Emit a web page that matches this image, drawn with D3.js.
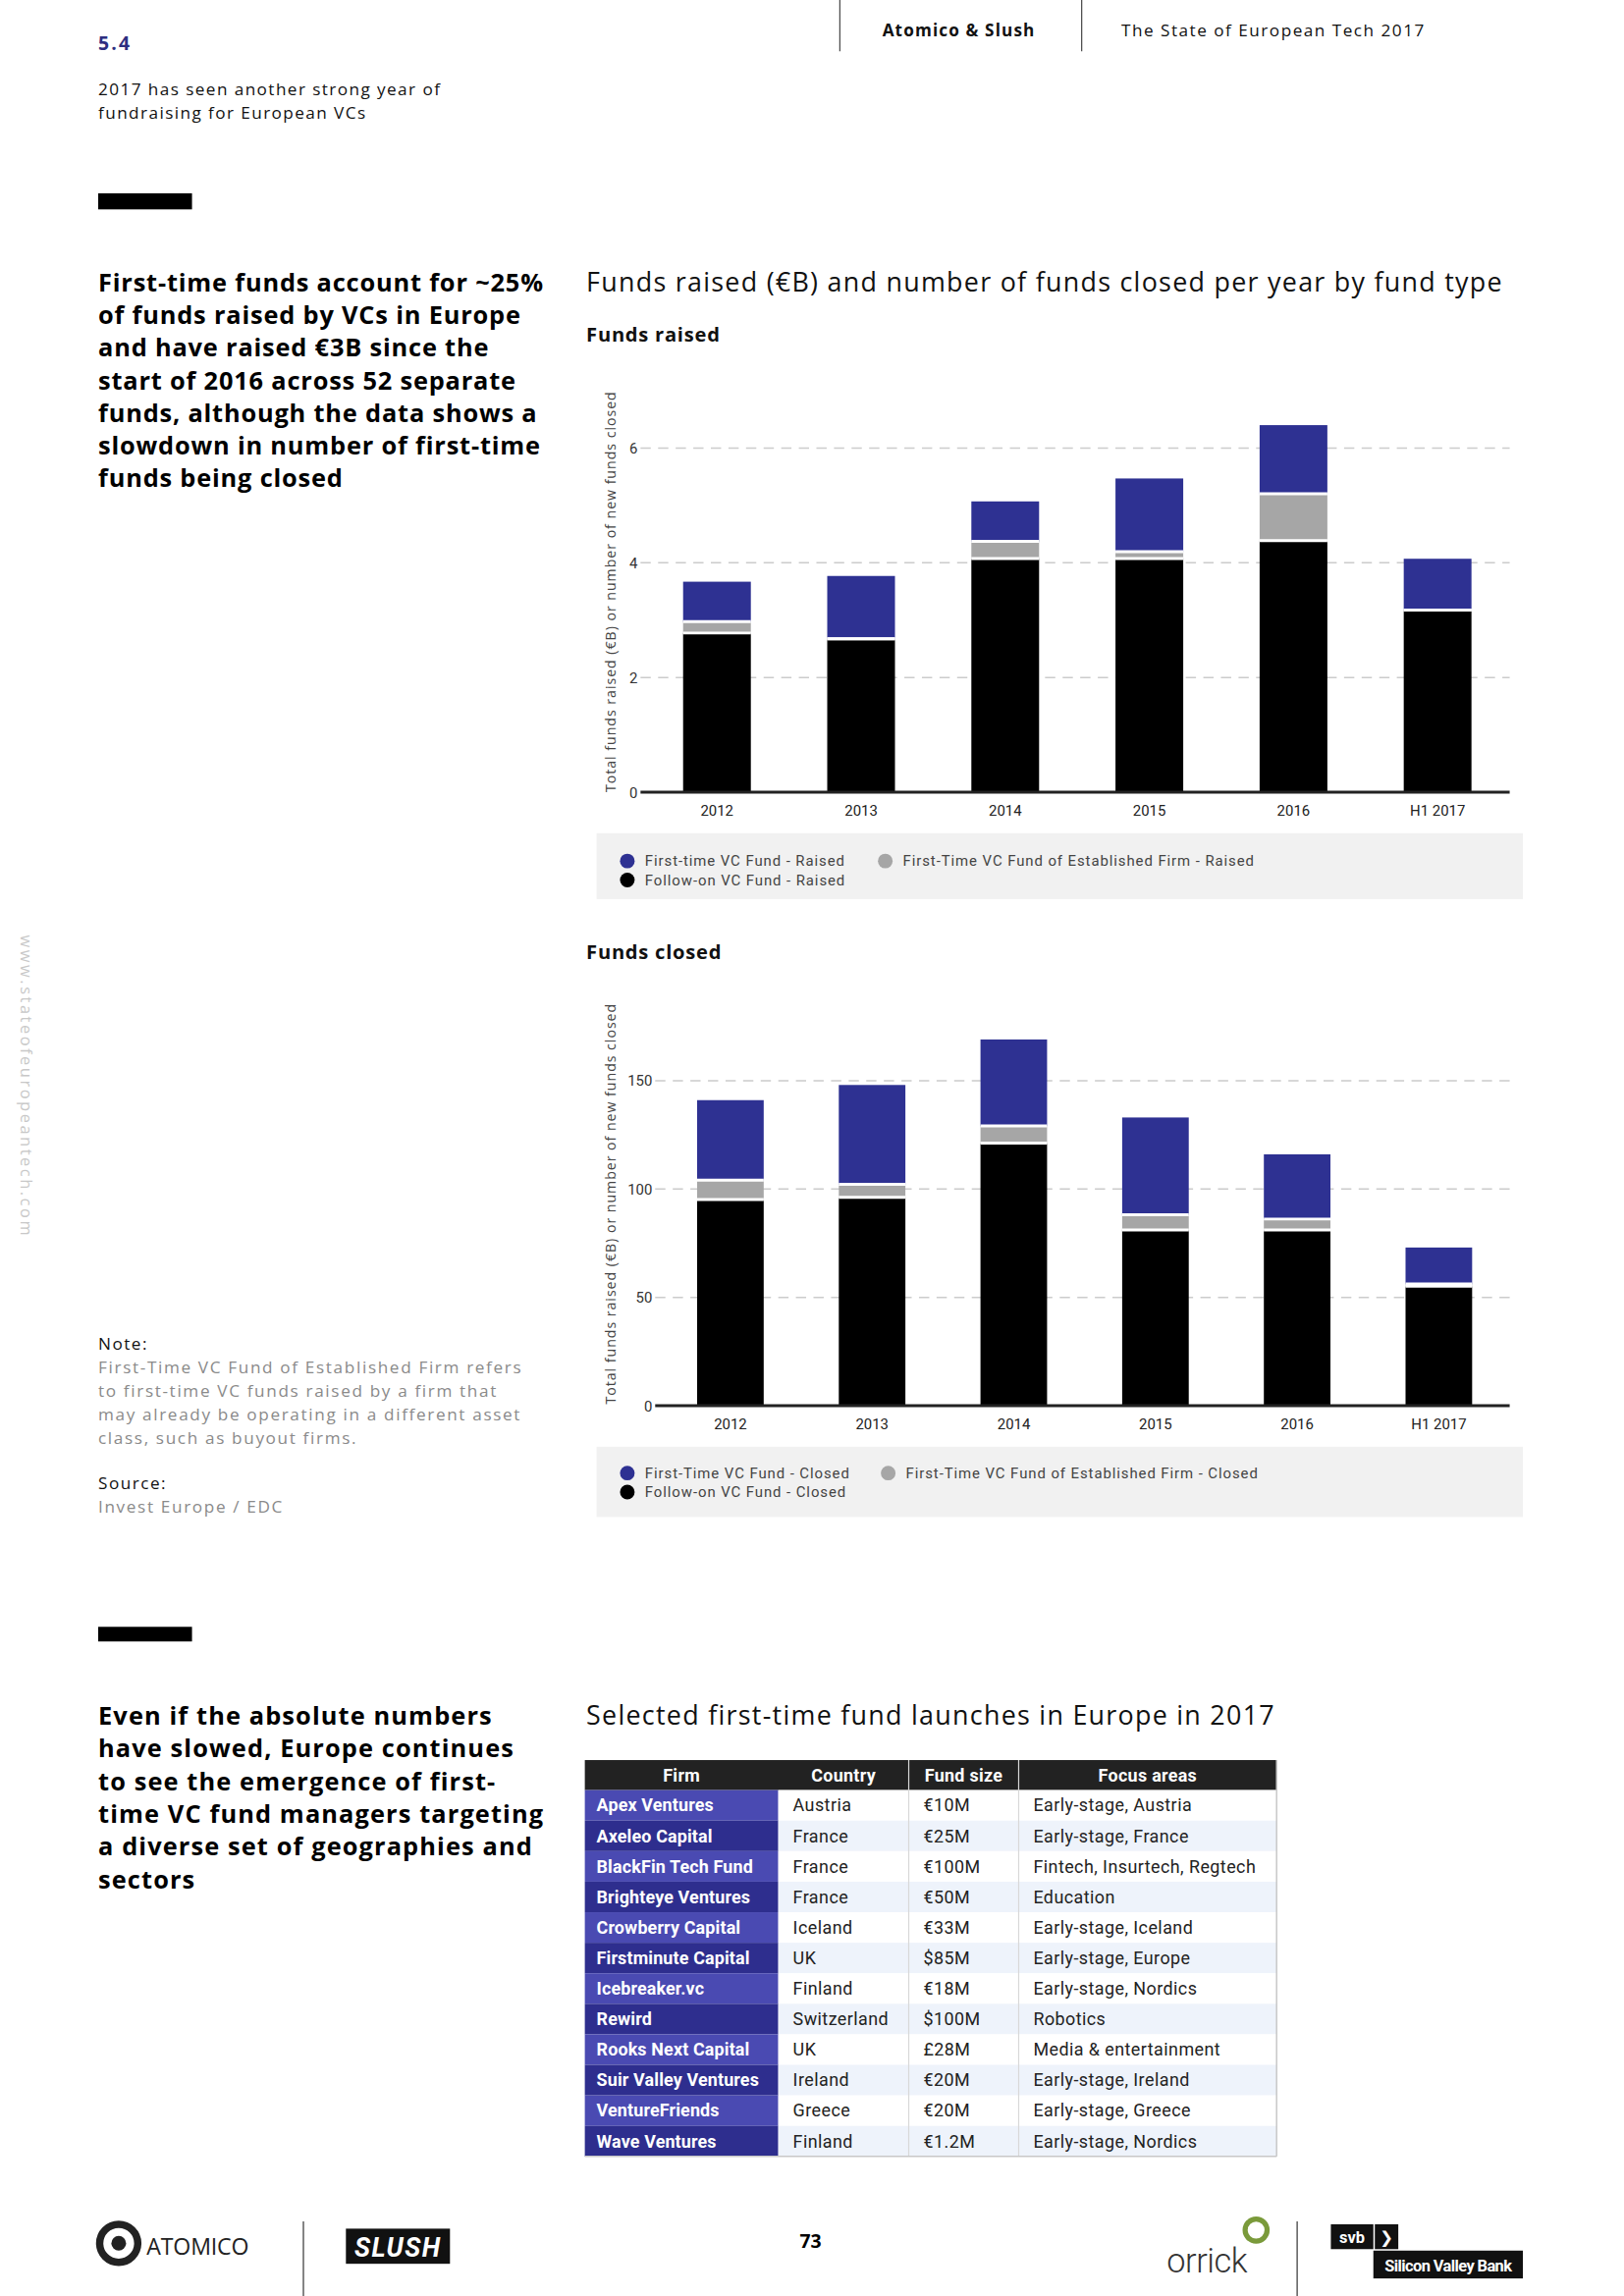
<!DOCTYPE html>
<html><head><meta charset="utf-8">
<script src="https://cdn.jsdelivr.net/npm/d3@7"></script>
<style>
html,body{margin:0;padding:0;background:#fff;}
svg{display:block;}
</style></head>
<body>
<script>
// ---------- DATA ----------
const years = ["2012", "2013", "2014", "2015", "2016", "H1 2017"];
const raisedFollowOn    = [2.77, 2.67, 4.07, 4.07, 4.38, 3.17];
const raisedEstablished = [0.20, 0.00, 0.30, 0.12, 0.82, 0.00];
const raisedFirstTime   = [0.70, 1.10, 0.70, 1.28, 1.20, 0.90];
const closedFollowOn    = [95, 96, 121, 81, 81, 55];
const closedEstablished = [9, 6, 8, 7, 5, 1];
const closedFirstTime   = [37, 46, 40, 45, 30, 17];
const raisedTicks = [0, 2, 4, 6];
const closedTicks = [0, 50, 100, 150];
const raisedLegend = ["First-time VC Fund - Raised", "First-Time VC Fund of Established Firm - Raised", "Follow-on VC Fund - Raised"];
const closedLegend = ["First-Time VC Fund - Closed", "First-Time VC Fund of Established Firm - Closed", "Follow-on VC Fund - Closed"];
const yAxisTitle = "Total funds raised (€B) or number of new funds closed";

const tableHeaders = ["Firm", "Country", "Fund size", "Focus areas"];
const firms = ["Apex Ventures", "Axeleo Capital", "BlackFin Tech Fund", "Brighteye Ventures", "Crowberry Capital", "Firstminute Capital", "Icebreaker.vc", "Rewird", "Rooks Next Capital", "Suir Valley Ventures", "VentureFriends", "Wave Ventures"];
const countries = ["Austria", "France", "France", "France", "Iceland", "UK", "Finland", "Switzerland", "UK", "Ireland", "Greece", "Finland"];
const fundSizes = ["€10M", "€25M", "€100M", "€50M", "€33M", "$85M", "€18M", "$100M", "£28M", "€20M", "€20M", "€1.2M"];
const focusAreas = ["Early-stage, Austria", "Early-stage, France", "Fintech, Insurtech, Regtech", "Education", "Early-stage, Iceland", "Early-stage, Europe", "Early-stage, Nordics", "Robotics", "Media & entertainment", "Early-stage, Ireland", "Early-stage, Greece", "Early-stage, Nordics"];

const block1 = ["First-time funds account for ~25%", "of funds raised by VCs in Europe", "and have raised €3B since the", "start of 2016 across 52 separate", "funds, although the data shows a", "slowdown in number of first-time", "funds being closed"];
const block2 = ["Even if the absolute numbers", "have slowed, Europe continues", "to see the emergence of first-", "time VC fund managers targeting", "a diverse set of geographies and", "sectors"];
const noteLines = ["First-Time VC Fund of Established Firm refers", "to first-time VC funds raised by a firm that", "may already be operating in a different asset", "class, such as buyout firms."];

// ---------- STYLE ----------
const BLUE = "#2e3192", GREY = "#a6a6a6", BLACK = "#000000";
const W = 1108, H = 1568;
const svg = d3.select("body").append("svg")
  .attr("width", 1654).attr("height", 2339)
  .attr("viewBox", `0 0 ${W} ${H}`).attr("preserveAspectRatio", "none");

const SANS = "'Open Sans', 'DejaVu Sans', sans-serif";
const COND = "Roboto, 'Open Sans', sans-serif";

function txt(x, y, s, o = {}) {
  const t = svg.append("text").attr("x", x).attr("y", y).text(s)
    .style("font-family", o.family || SANS)
    .style("font-size", (o.size || 12) + "px")
    .style("font-weight", o.weight || 400)
    .attr("fill", o.fill || "#111");
  if (o.anchor) t.attr("text-anchor", o.anchor);
  if (o.ls !== undefined) t.style("letter-spacing", o.ls + "px");
  return t;
}

// ---------- HEADER ----------
svg.append("line").attr("x1", 573).attr("x2", 573).attr("y1", 0).attr("y2", 35).attr("stroke", "#444").attr("stroke-width", 0.8);
svg.append("line").attr("x1", 738).attr("x2", 738).attr("y1", 0).attr("y2", 35).attr("stroke", "#444").attr("stroke-width", 0.8);
txt(602, 25, "Atomico & Slush", {size: 11.5, weight: 700, ls: 0.75});
txt(765, 25, "The State of European Tech 2017", {size: 11.5, ls: 1.0});
txt(67, 34, "5.4", {size: 13, weight: 700, fill: "#2e2e80", ls: 1.5});
txt(67, 65, "2017 has seen another strong year of", {size: 11.5, ls: 0.95});
txt(67, 81, "fundraising for European VCs", {size: 11.5, ls: 0.95});
svg.append("rect").attr("x", 67).attr("y", 132).attr("width", 64).attr("height", 11).attr("fill", "#000");

block1.forEach((l, i) => txt(67, 199 + i * 22.3, l, {size: 17, weight: 700, fill: "#000", ls: 0.55}));

// side url
svg.append("text").attr("transform", "translate(14,742) rotate(90)")
  .attr("text-anchor", "middle").text("www.stateofeuropeantech.com")
  .style("font-family", SANS).style("font-size", "11px").style("letter-spacing", "1.7px").attr("fill", "#c8c8c8");

// ---------- CHART TITLE ----------
txt(400, 199, "Funds raised (€B) and number of funds closed per year by fund type", {size: 18, ls: 0.85});

// ---------- STACKED CHART ----------
function stackedChart(cfg) {
  const rows = years.map((y, i) => ({year: y, follow: cfg.follow[i], estab: cfg.estab[i], first: cfg.first[i]}));
  const keys = ["follow", "estab", "first"];
  const colors = {follow: BLACK, estab: GREY, first: BLUE};
  const series = d3.stack().keys(keys)(rows);
  const x = d3.scaleBand().domain(years).range([cfg.x0, cfg.x1]).paddingInner(0.53).paddingOuter(0.265);
  const y = d3.scaleLinear().domain([0, cfg.ticks[cfg.ticks.length - 1]]).range([cfg.yBase, cfg.yTop]);
  const g = svg.append("g");

  txt(400, cfg.titleY, cfg.title, {size: 13.5, weight: 700, ls: 0.5});

  // gridlines
  g.selectAll(".grid").data(cfg.ticks.filter(t => t > 0)).join("line")
    .attr("x1", cfg.x0 - 3).attr("x2", cfg.x1).attr("y1", d => y(d)).attr("y2", d => y(d))
    .attr("stroke", "#cccccc").attr("stroke-width", 1).attr("stroke-dasharray", "7,5");

  // y tick labels via axis
  const yAxis = d3.axisLeft(y).tickValues(cfg.ticks).tickSize(0).tickPadding(0).tickFormat(d3.format("d"));
  const ga = g.append("g").attr("transform", `translate(${cfg.x0 - 5},0)`).call(yAxis);
  ga.select(".domain").remove();
  ga.selectAll("text").style("font-family", COND).style("font-size", "10px").attr("fill", "#333");

  // bars
  series.forEach(s => {
    g.selectAll(null).data(s).join("rect")
      .attr("x", d => x(d.data.year)).attr("width", x.bandwidth())
      .attr("y", d => y(d[1])).attr("height", d => Math.max(0, y(d[0]) - y(d[1])))
      .attr("fill", colors[s.key]);
  });
  // white separators between segments
  series.slice(0, 2).forEach(s => {
    g.selectAll(null).data(s).join("line")
      .attr("x1", d => x(d.data.year)).attr("x2", d => x(d.data.year) + x.bandwidth())
      .attr("y1", d => y(d[1]) - 0.2).attr("y2", d => y(d[1]) - 0.2)
      .attr("stroke", "#fff").attr("stroke-width", 2);
  });

  // baseline + x labels
  const xAxis = d3.axisBottom(x).tickSize(0).tickPadding(9);
  const gx = g.append("g").attr("transform", `translate(0,${cfg.yBase})`).call(xAxis);
  gx.select(".domain").attr("stroke", "#222").attr("stroke-width", 2).attr("d", `M${cfg.x0 - 3},0H${cfg.x1}`);
  gx.selectAll("text").style("font-family", COND).style("font-size", "10px").attr("fill", "#222");

  // y axis title
  g.append("text").attr("transform", `translate(420,${cfg.titleMid}) rotate(-90)`)
    .attr("text-anchor", "middle").text(yAxisTitle)
    .style("font-family", SANS).style("font-size", "9.5px").style("letter-spacing", "0.65px").attr("fill", "#444");

  // legend
  const L = cfg.legend;
  g.append("rect").attr("x", 407).attr("y", L.y).attr("width", 632).attr("height", L.h).attr("fill", "#f1f1f1");
  const items = [
    {label: cfg.legendLabels[0], color: BLUE, cx: 428, cy: L.r1, tx: 440},
    {label: cfg.legendLabels[1], color: GREY, cx: L.c2, cy: L.r1, tx: L.c2 + 12},
    {label: cfg.legendLabels[2], color: BLACK, cx: 428, cy: L.r2, tx: 440}
  ];
  items.forEach(it => {
    g.append("circle").attr("cx", it.cx).attr("cy", it.cy).attr("r", 5).attr("fill", it.color);
    txt(it.tx, it.cy + 3.6, it.label, {family: COND, size: 10, fill: "#444", ls: 0.62});
  });
}

stackedChart({
  title: "Funds raised", titleY: 233,
  follow: raisedFollowOn, estab: raisedEstablished, first: raisedFirstTime,
  ticks: raisedTicks, x0: 440, x1: 1030, yBase: 541, yTop: 306, titleMid: 404,
  legend: {y: 569, h: 45, r1: 588, r2: 601, c2: 604},
  legendLabels: raisedLegend
});
stackedChart({
  title: "Funds closed", titleY: 655,
  follow: closedFollowOn, estab: closedEstablished, first: closedFirstTime,
  ticks: closedTicks, x0: 450, x1: 1030, yBase: 960, yTop: 738, titleMid: 822,
  legend: {y: 988, h: 48, r1: 1006, r2: 1019, c2: 606},
  legendLabels: closedLegend
});

// ---------- NOTES ----------
txt(67, 922, "Note:", {size: 11.5, ls: 1.0});
noteLines.forEach((l, i) => txt(67, 938 + i * 16, l, {size: 11.5, fill: "#8a8a8a", ls: 1.1}));
txt(67, 1017, "Source:", {size: 11.5, ls: 1.0});
txt(67, 1033, "Invest Europe / EDC", {size: 11.5, fill: "#8a8a8a", ls: 1.1});

// ---------- SECTION 2 ----------
svg.append("rect").attr("x", 67).attr("y", 1111).attr("width", 64).attr("height", 10).attr("fill", "#000");
block2.forEach((l, i) => txt(67, 1178 + i * 22.3, l, {size: 17, weight: 700, fill: "#000", ls: 0.75}));
txt(400, 1178, "Selected first-time fund launches in Europe in 2017", {size: 18, ls: 0.85});

// ---------- TABLE ----------
const colX = [399, 531, 620, 695, 871];
const headY = 1202, headH = 20.5, rowH = 20.85;
const tg = svg.append("g");
tg.append("rect").attr("x", colX[0]).attr("y", headY).attr("width", colX[4] - colX[0]).attr("height", headH).attr("fill", "#222222");
tableHeaders.forEach((h, j) => {
  tg.append("text").attr("x", (colX[j] + colX[j + 1]) / 2).attr("y", headY + headH / 2 + 4.2)
    .attr("text-anchor", "middle").text(h).style("font-family", COND).style("font-size", "12px").style("font-weight", 700).style("letter-spacing", "0.2px").attr("fill", "#fff");
});
firms.forEach((f, i) => {
  const y0 = headY + headH + i * rowH;
  tg.append("rect").attr("x", colX[0]).attr("y", y0).attr("width", colX[1] - colX[0]).attr("height", rowH)
    .attr("fill", i % 2 === 0 ? "#4a4ab2" : "#2e2e8e");
  tg.append("rect").attr("x", colX[1]).attr("y", y0).attr("width", colX[4] - colX[1]).attr("height", rowH)
    .attr("fill", i % 2 === 0 ? "#ffffff" : "#eef3fb");
  const cy = y0 + rowH / 2 + 4.2;
  tg.append("text").attr("x", colX[0] + 8).attr("y", cy).text(f).style("font-family", COND).style("font-size", "12px").style("font-weight", 700).style("letter-spacing", "0.1px").attr("fill", "#fff");
  [countries[i], fundSizes[i], focusAreas[i]].forEach((v, j) => {
    tg.append("text").attr("x", colX[j + 1] + 10).attr("y", cy).text(v).style("font-family", COND).style("font-size", "12px").style("letter-spacing", "0.3px").attr("fill", "#222");
  });
});
const tEnd = headY + headH + firms.length * rowH;
[2, 3].forEach(j => tg.append("line").attr("x1", colX[j]).attr("x2", colX[j]).attr("y1", headY).attr("y2", tEnd).attr("stroke", "#d8d8d8").attr("stroke-width", 0.8));
tg.append("line").attr("x1", colX[4]).attr("x2", colX[4]).attr("y1", headY).attr("y2", tEnd).attr("stroke", "#c8c8c8");
tg.append("line").attr("x1", colX[0]).attr("x2", colX[4]).attr("y1", tEnd).attr("y2", tEnd).attr("stroke", "#c8c8c8");

// ---------- FOOTER ----------
svg.append("circle").attr("cx", 81).attr("cy", 1532).attr("r", 13).attr("fill", "none").attr("stroke", "#222").attr("stroke-width", 5);
svg.append("circle").attr("cx", 81).attr("cy", 1532).attr("r", 5).attr("fill", "#222");
txt(100, 1540, "ATOMICO", {size: 15.5, fill: "#222", ls: -0.1});
svg.append("line").attr("x1", 207).attr("x2", 207).attr("y1", 1517).attr("y2", H).attr("stroke", "#333").attr("stroke-width", 0.8);
svg.append("rect").attr("x", 236).attr("y", 1522).attr("width", 71).attr("height", 24).attr("fill", "#111");
svg.append("text").attr("x", 271.5).attr("y", 1541).attr("text-anchor", "middle").text("SLUSH")
  .style("font-family", COND).style("font-size", "18px").style("font-weight", 700).style("font-style", "italic").style("letter-spacing", "1px").attr("fill", "#fff");
txt(553, 1535, "73", {size: 13, weight: 700, anchor: "middle", fill: "#000"});
txt(796, 1552, "orrick", {size: 23, fill: "#333", ls: -0.3, family: COND, weight: 300});
svg.append("circle").attr("cx", 857).attr("cy", 1523).attr("r", 7.5).attr("fill", "none").attr("stroke", "#7a9a3a").attr("stroke-width", 3.5);
svg.append("line").attr("x1", 885).attr("x2", 885).attr("y1", 1517).attr("y2", H).attr("stroke", "#333").attr("stroke-width", 0.8);
svg.append("rect").attr("x", 908).attr("y", 1519).attr("width", 29).attr("height", 17).attr("fill", "#111");
svg.append("rect").attr("x", 938).attr("y", 1519).attr("width", 16).attr("height", 17).attr("fill", "#111");
txt(922.5, 1532, "svb", {size: 11, weight: 700, fill: "#fff", anchor: "middle", family: COND});
txt(946, 1532, "❯", {size: 11, weight: 700, fill: "#fff", anchor: "middle", family: "'DejaVu Sans'"});
svg.append("rect").attr("x", 937).attr("y", 1537).attr("width", 102).attr("height", 19).attr("fill", "#111");
txt(988, 1551, "Silicon Valley Bank", {size: 11, weight: 700, fill: "#fff", anchor: "middle", family: COND, ls: -0.4});
</script>
</body></html>
